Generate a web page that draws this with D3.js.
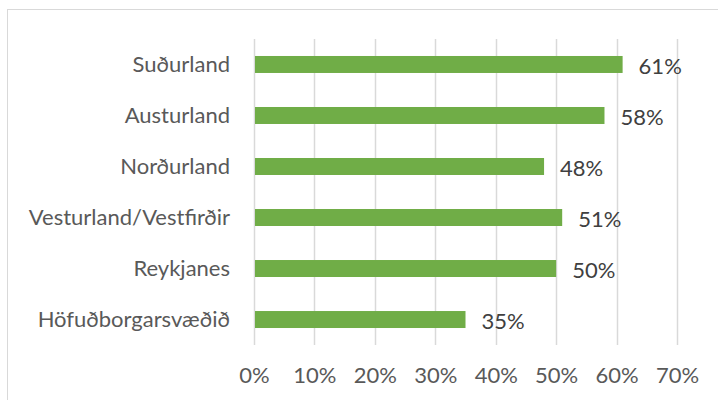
<!DOCTYPE html>
<html>
<head>
<meta charset="utf-8">
<script src="https://cdn.jsdelivr.net/npm/d3@7"></script>
<style>
  body { margin: 0; background: #fff; }
  text { font-family: Lato, "Open Sans", sans-serif; }
</style>
</head>
<body>
<div id="chart"></div>
<script>
var regions = ['Suðurland', 'Austurland', 'Norðurland', 'Vesturland/Vestfirðir', 'Reykjanes', 'Höfuðborgarsvæðið'];
var shares = [0.61, 0.58, 0.48, 0.51, 0.50, 0.35];
var xTicks = [0, 0.1, 0.2, 0.3, 0.4, 0.5, 0.6, 0.7];

var W = 718, H = 400;
var margins = { top: 39, left: 254, right: 41, bottom: 55 };
var width = W - margins.left - margins.right;
var height = H - margins.top - margins.bottom;

var svg = d3.select('#chart').append('svg')
        .attr('width', W)
        .attr('height', H);

// chart frame
svg.append('rect')
        .attr('x', 7.5).attr('y', 9.5)
        .attr('width', W).attr('height', H)
        .attr('fill', 'none')
        .attr('stroke', '#d9d9d9')
        .attr('stroke-width', 1);

var xScale = d3.scaleLinear().domain([0, 0.7]).range([0, width]);
var yScale = d3.scaleBand().domain(regions).range([0, height]).paddingInner(0.667).paddingOuter(0.333);

var g = svg.append('g').attr('transform', 'translate(' + margins.left + ',' + margins.top + ')');

// gridlines
g.selectAll('line.grid')
        .data(xTicks)
        .enter().append('line')
        .attr('class', 'grid')
        .attr('x1', function(d){ return Math.round(xScale(d)) + 0.5; })
        .attr('x2', function(d){ return Math.round(xScale(d)) + 0.5; })
        .attr('y1', 0).attr('y2', height)
        .attr('stroke', '#d9d9d9')
        .attr('stroke-width', 1.5);

// bars
g.selectAll('rect.bar')
        .data(regions)
        .enter().append('rect')
        .attr('class', 'bar')
        .attr('x', xScale(0) + 1)
        .attr('y', function(d){ return yScale(d); })
        .attr('width', function(d, i){ return xScale(shares[i]) - 1; })
        .attr('height', yScale.bandwidth())
        .attr('fill', '#70ad47');

// data labels
g.selectAll('text.val')
        .data(regions)
        .enter().append('text')
        .attr('class', 'val')
        .attr('x', function(d, i){ return xScale(shares[i]) + 16; })
        .attr('y', function(d){ return yScale(d) + yScale.bandwidth() / 2 + 2; })
        .attr('dy', '0.35em')
        .attr('fill', '#404040')
        .style('font-size', '22px')
        .text(function(d, i){ return Math.round(shares[i] * 100) + '%'; });

// category axis
var yAxis = d3.axisLeft(yScale).tickSize(0).tickPadding(24);
var yG = g.append('g').call(yAxis);
yG.select('.domain').remove();
yG.selectAll('text').attr('fill', '#595959').style('font-size', '22px');

// value axis
var xAxis = d3.axisBottom(xScale).tickValues(xTicks).tickSize(0).tickPadding(22).tickFormat(d3.format('.0%'));
var xG = g.append('g').attr('transform', 'translate(0,' + height + ')').call(xAxis);
xG.select('.domain').remove();
xG.selectAll('text').attr('fill', '#595959').style('font-size', '22px');
</script>
</body>
</html>
